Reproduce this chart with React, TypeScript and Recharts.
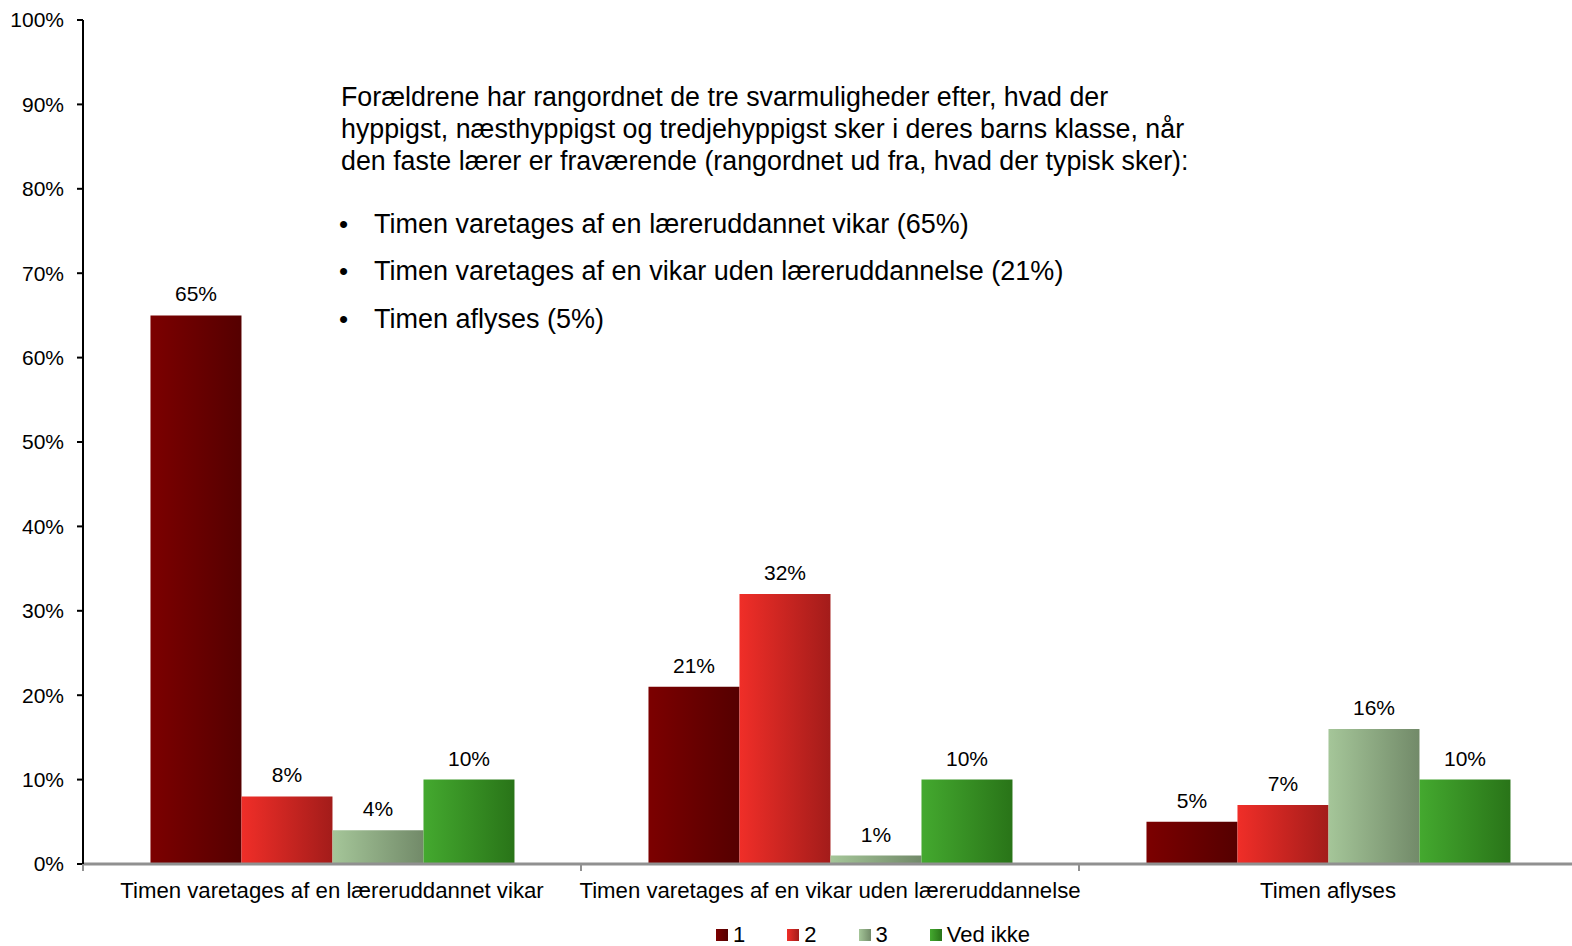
import React from "react";
import { BarChart, Bar, XAxis, YAxis, Legend, LabelList } from "recharts";

const categories = [
  "Timen varetages af en læreruddannet vikar",
  "Timen varetages af en vikar uden læreruddannelse",
  "Timen aflyses",
];
const seriesNames = ["1", "2", "3", "Ved ikke"];
const rank1 = [65, 21, 5];
const rank2 = [8, 32, 7];
const rank3 = [4, 1, 16];
const vedIkke = [10, 10, 10];
const yTicks = [0, 10, 20, 30, 40, 50, 60, 70, 80, 90, 100];

const noteLines = [
  "Forældrene har rangordnet de tre svarmuligheder efter, hvad der",
  "hyppigst, næsthyppigst og tredjehyppigst sker i deres barns klasse, når",
  "den faste lærer er fraværende (rangordnet ud fra, hvad der typisk sker):",
];
const noteBullets = [
  "Timen varetages af en læreruddannet vikar (65%)",
  "Timen varetages af en vikar uden læreruddannelse (21%)",
  "Timen aflyses (5%)",
];

const gradients = [
  ["#7c0000", "#550000"],
  ["#f02e28", "#a31c1a"],
  ["#a5c699", "#728a69"],
  ["#44a92f", "#297418"],
];

const data = categories.map((c, i) => ({
  name: c,
  s1: rank1[i],
  s2: rank2[i],
  s3: rank3[i],
  s4: vedIkke[i],
}));

const FONT = "'Liberation Sans', Arial, sans-serif";
const AXIS_GRAY = "#909090";

const XTick = (props: any) => {
  const { x, y, payload, index, visibleTicksCount } = props;
  const half = payload && payload.offset ? payload.offset : 0;
  const axisY = y - 8;
  const isLast = index === (visibleTicksCount ?? categories.length) - 1;
  return (
    <g>
      <line x1={x - half} x2={x - half} y1={axisY} y2={axisY + 7} stroke={AXIS_GRAY} strokeWidth={2} />
      {isLast && (
        <line x1={x + half} x2={x + half} y1={axisY} y2={axisY + 7} stroke={AXIS_GRAY} strokeWidth={2} />
      )}
      <text x={x} y={axisY + 34} textAnchor="middle" fontSize={22.2} fill="#000" fontFamily={FONT}>
        {payload.value}
      </text>
    </g>
  );
};

const LegendContent = () => (
  <div
    style={{
      display: "flex",
      alignItems: "center",
      fontFamily: FONT,
      fontSize: 22,
      lineHeight: "20px",
      height: 20,
      color: "#000",
    }}
  >
    {seriesNames.map((n, i) => (
      <div key={n} style={{ display: "flex", alignItems: "center", marginRight: 42 }}>
        <div
          style={{
            width: 12,
            height: 12,
            background: `linear-gradient(to right, ${gradients[i][0]}, ${gradients[i][1]})`,
            marginRight: 5,
          }}
        />
        <span style={{ whiteSpace: "nowrap" }}>{n}</span>
      </div>
    ))}
  </div>
);

export default function App() {
  return (
    <div
      style={{
        position: "absolute",
        left: 0,
        top: 0,
        width: 1572,
        height: 946,
        overflow: "hidden",
        background: "#fff",
        fontFamily: FONT,
      }}
    >
      <BarChart
        width={1577}
        height={946}
        data={data}
        margin={{ top: 20, right: 0, left: 0, bottom: 22 }}
        barCategoryGap="13.55%"
        barGap={0}
      >
        <defs>
          {gradients.map((g, i) => (
            <linearGradient key={i} id={`grad${i}`} x1="0" y1="0" x2="1" y2="0">
              <stop offset="0%" stopColor={g[0]} />
              <stop offset="100%" stopColor={g[1]} />
            </linearGradient>
          ))}
        </defs>
        <XAxis
          dataKey="name"
          height={60}
          tickSize={6}
          tickMargin={2}
          tickLine={false}
          axisLine={{ stroke: AXIS_GRAY, strokeWidth: 3 }}
          tick={<XTick />}
          interval={0}
        />
        <YAxis
          width={83}
          domain={[0, 100]}
          ticks={yTicks}
          interval={0}
          tickFormatter={(v: number) => `${v}%`}
          tickSize={6}
          tickMargin={13}
          axisLine={{ stroke: "#000", strokeWidth: 2 }}
          tickLine={{ stroke: "#000", strokeWidth: 2 }}
          tick={{ fontSize: 21, fill: "#000", fontFamily: FONT }}
        />
        <Legend
          verticalAlign="middle"
          layout="horizontal"
          wrapperStyle={{ top: 925, left: 716, width: 420, height: 20 }}
          content={<LegendContent />}
        />
        {["s1", "s2", "s3", "s4"].map((k, i) => (
          <Bar key={k} dataKey={k} name={seriesNames[i]} fill={`url(#grad${i})`} isAnimationActive={false}>
            <LabelList
              dataKey={k}
              position="top"
              offset={14}
              formatter={(v: any) => `${v}%`}
              style={{ fontSize: 21, fill: "#000", fontFamily: FONT }}
            />
          </Bar>
        ))}
      </BarChart>
      <svg
        width={1572}
        height={946}
        style={{ position: "absolute", left: 0, top: 0, pointerEvents: "none" }}
      >
        {noteLines.map((t, i) => (
          <text key={t} x={341} y={106 + i * 32} fontSize={26.8} fill="#000" fontFamily={FONT}>
            {t}
          </text>
        ))}
        {noteBullets.map((t, i) => (
          <g key={t}>
            <text x={339} y={232.5 + i * 47.5} fontSize={26} fill="#000" fontFamily={FONT}>
              •
            </text>
            <text x={374} y={232.5 + i * 47.5} fontSize={27} fill="#000" fontFamily={FONT}>
              {t}
            </text>
          </g>
        ))}
      </svg>
    </div>
  );
}
